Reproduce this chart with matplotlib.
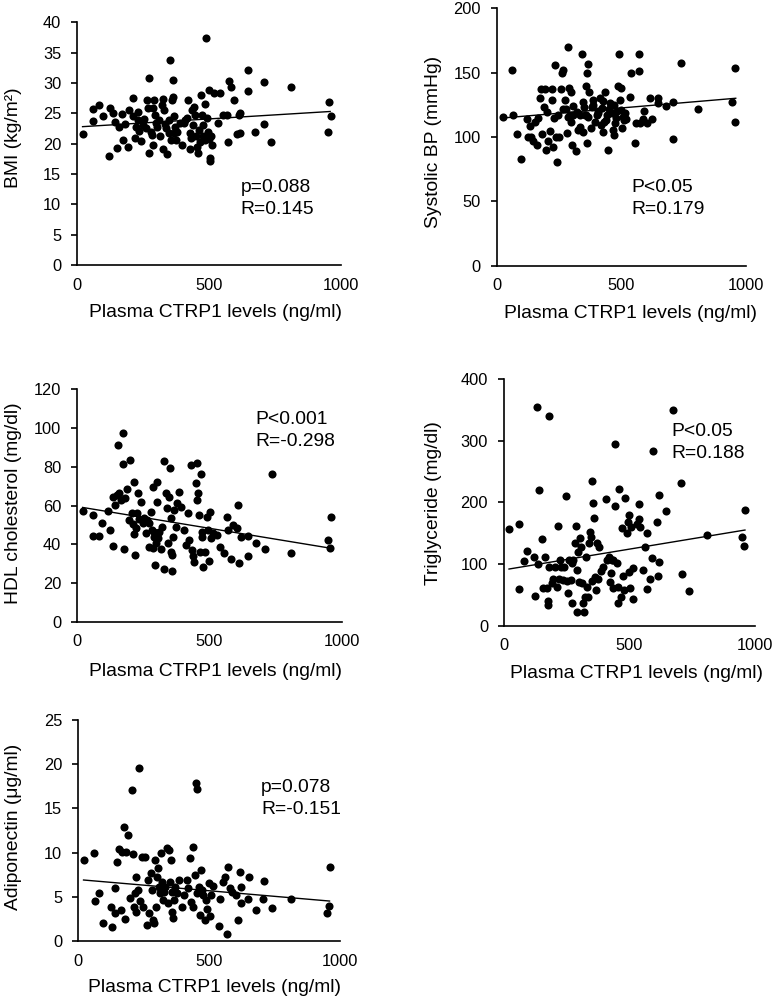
import matplotlib.pyplot as plt
import numpy as np

plt.rcParams["font.family"] = ["Liberation Sans", "DejaVu Sans"]

W, H = 775, 998
X_LABEL = "Plasma CTRP1 levels (ng/ml)"
X_TICKS = [0, 500, 1000]
FIT_X = [20, 960]

# (CTRP1 ng/ml, value)
BMI_POINTS = [
    (23, 21.6), (61, 25.7), (61, 23.8), (81, 26.3), (96, 24.6), (124, 25.9), (122, 17.9),
    (137, 25.1), (143, 23.6), (152, 19.3), (157, 22.8), (171, 24.9), (175, 20.6), (181, 23.2),
    (192, 19.5), (198, 25.5), (213, 27.6), (213, 24.5), (220, 20.9), (224, 22.8), (229, 25.2),
    (232, 23.9), (236, 22.1), (241, 20.4), (249, 23.1), (254, 24.1), (260, 22.5), (264, 27.2),
    (270, 25.9), (273, 18.4), (274, 30.9), (280, 22.0), (283, 21.5), (287, 25.9), (289, 19.8),
    (293, 27.2), (295, 24.7), (299, 23.4), (304, 22.8), (309, 23.9), (315, 21.3), (321, 26.4),
    (324, 19.2), (327, 27.4), (330, 25.5), (333, 23.2), (338, 22.5), (340, 18.3), (347, 23.9),
    (350, 21.7), (353, 33.8), (355, 20.6), (359, 27.2), (362, 30.5), (362, 27.7), (366, 24.5),
    (368, 21.7), (372, 22.8), (376, 20.6), (378, 22.0), (390, 23.4), (398, 19.7), (404, 23.4),
    (410, 23.9), (416, 24.3), (422, 27.2), (427, 21.7), (429, 19.2), (432, 20.9), (435, 25.5),
    (439, 23.1), (444, 26.1), (448, 24.7), (450, 21.2), (455, 19.5), (458, 18.4), (463, 22.3),
    (467, 20.3), (471, 28.0), (473, 24.7), (476, 21.2), (479, 23.1), (484, 26.6), (486, 20.6),
    (490, 37.4), (492, 24.3), (497, 22.0), (499, 20.7), (501, 28.8), (502, 17.7), (505, 17.2),
    (507, 21.2), (512, 19.8), (518, 28.4), (536, 23.4), (543, 28.4), (553, 24.7), (568, 24.7),
    (573, 20.3), (575, 30.4), (584, 29.3), (594, 27.2), (607, 21.6), (614, 24.7), (617, 25.1),
    (619, 21.8), (647, 32.1), (648, 28.6), (676, 21.9), (708, 30.1), (710, 23.2), (737, 20.2),
    (810, 29.3), (950, 22.0), (957, 26.8), (962, 24.6),
]
BP_POINTS = [
    (24, 115.8), (62, 152.1), (64, 117.1), (83, 102.1), (96, 82.9), (120, 114.0), (127, 100.3),
    (134, 108.5), (138, 99.7), (145, 97.2), (154, 111.9), (161, 93.8), (167, 114.5), (174, 130.1),
    (178, 137.0), (181, 102.1), (190, 123.1), (194, 137.0), (198, 89.9), (203, 119.7), (207, 96.9),
    (214, 104.7), (221, 128.8), (222, 137.0), (228, 92.5), (230, 114.5), (234, 156.0), (238, 100.3),
    (241, 80.8), (248, 117.1), (251, 100.3), (257, 137.0), (264, 149.5), (266, 152.1), (268, 121.5),
    (274, 128.8), (281, 103.4), (285, 115.3), (288, 170.2), (292, 137.8), (294, 117.1), (298, 135.2),
    (301, 93.8), (305, 124.1), (308, 117.1), (319, 89.1), (321, 119.7), (328, 105.4), (335, 117.1),
    (341, 164.2), (345, 104.1), (348, 127.5), (351, 123.6), (355, 117.1), (359, 139.6), (361, 95.1),
    (364, 150.0), (365, 156.7), (368, 115.8), (372, 135.2), (378, 107.3), (382, 123.6), (388, 128.8),
    (402, 117.1), (408, 118.4), (415, 130.1), (422, 122.3), (426, 104.1), (431, 111.9), (435, 135.2),
    (442, 117.1), (448, 89.9), (455, 126.2), (462, 118.4), (466, 105.4), (471, 101.6), (475, 110.6),
    (482, 120.2), (489, 139.6), (493, 164.2), (495, 128.8), (498, 137.8), (502, 106.7), (506, 115.3),
    (511, 113.2), (516, 118.4), (535, 130.8), (540, 150.0), (556, 95.1), (560, 111.1), (570, 164.2),
    (573, 151.3), (576, 111.1), (586, 113.7), (593, 120.2), (602, 111.1), (616, 130.1), (622, 113.7),
    (647, 130.1), (649, 126.7), (679, 124.1), (707, 127.5), (710, 98.2), (739, 157.3), (807, 121.8),
    (945, 126.9), (957, 153.9), (958, 111.9), (360, 117.0), (385, 125.0), (395, 112.0), (405, 120.0),
    (428, 128.0), (440, 113.0), (450, 122.0), (470, 125.0), (480, 115.0), (500, 121.0), (520, 114.0),
    (335, 108.0), (300, 112.0), (280, 122.0), (420, 109.0),
]
HDL_POINTS = [
    (23, 57.3), (61, 55.1), (58, 44.2), (81, 44.2), (95, 51.1), (117, 57.3), (124, 47.3),
    (134, 39.1), (136, 64.5), (142, 60.2), (149, 65.4), (155, 91.2), (159, 66.3), (165, 62.8),
    (172, 81.2), (174, 97.2), (177, 37.3), (180, 63.7), (189, 68.3), (195, 52.5), (199, 83.5),
    (208, 56.3), (212, 50.3), (214, 45.3), (216, 72.3), (222, 48.2), (224, 56.3), (219, 34.4),
    (228, 66.3), (235, 52.8), (240, 62.0), (247, 51.1), (253, 53.4), (258, 45.6), (262, 52.5),
    (271, 50.8), (272, 38.7), (277, 56.8), (281, 47.3), (285, 69.7), (288, 38.2), (289, 46.5),
    (291, 43.9), (293, 29.3), (296, 40.4), (300, 72.3), (303, 62.0), (306, 43.0), (310, 46.5),
    (316, 37.3), (322, 49.1), (328, 83.1), (329, 27.0), (334, 66.3), (338, 58.5), (342, 40.4),
    (347, 64.5), (351, 79.2), (353, 53.4), (354, 36.1), (357, 26.3), (359, 34.4), (363, 43.9),
    (367, 57.7), (373, 49.1), (378, 61.1), (386, 67.1), (394, 59.4), (405, 47.3), (411, 39.6),
    (417, 55.9), (424, 42.2), (429, 80.9), (433, 37.0), (436, 33.9), (441, 31.0), (449, 71.4),
    (452, 81.8), (454, 62.8), (458, 66.3), (460, 55.1), (464, 36.1), (468, 76.2), (470, 46.5),
    (473, 43.9), (477, 28.1), (483, 36.1), (489, 53.9), (496, 47.3), (499, 31.3), (502, 56.8),
    (506, 43.0), (514, 45.6), (527, 44.8), (540, 38.7), (556, 35.6), (565, 54.2), (571, 47.3),
    (580, 32.2), (590, 49.9), (605, 48.2), (609, 60.2), (613, 30.1), (618, 43.5), (646, 44.2),
    (647, 33.9), (676, 40.4), (710, 37.3), (735, 76.2), (807, 35.3), (947, 42.2), (956, 38.0),
    (958, 54.2),
]
TG_POINTS = [
    (21, 157.3), (60, 164.3), (58, 58.9), (81, 104.9), (93, 121.6), (121, 110.8), (124, 48.6),
    (133, 354.1), (137, 100.0), (141, 220.0), (151, 141.1), (157, 60.5), (163, 111.9), (170, 60.5),
    (174, 40.5), (177, 33.0), (178, 340.5), (181, 94.6), (191, 68.6), (197, 75.1), (205, 94.6),
    (210, 63.2), (215, 161.6), (218, 75.1), (223, 106.5), (229, 94.6), (234, 74.1), (239, 94.6),
    (246, 210.3), (250, 73.0), (254, 53.5), (260, 106.5), (266, 74.1), (270, 37.3), (272, 101.1),
    (276, 106.5), (283, 133.5), (287, 161.6), (290, 22.7), (292, 90.3), (296, 120.0), (299, 71.4),
    (303, 141.6), (307, 128.1), (309, 68.6), (316, 37.3), (319, 22.7), (323, 47.0), (327, 111.9),
    (329, 62.2), (336, 47.0), (340, 133.5), (343, 152.4), (347, 144.3), (349, 235.1), (352, 73.0),
    (356, 198.4), (360, 174.1), (363, 78.4), (367, 57.8), (369, 133.5), (376, 75.1), (386, 89.2),
    (396, 94.6), (405, 205.4), (412, 106.5), (418, 111.9), (422, 71.4), (425, 84.9), (432, 106.5),
    (436, 60.5), (441, 294.6), (442, 194.6), (449, 101.1), (453, 36.2), (455, 63.2), (460, 221.1),
    (465, 47.0), (469, 157.8), (473, 80.5), (479, 57.8), (483, 206.5), (489, 150.8), (493, 168.6),
    (497, 87.6), (499, 179.5), (502, 60.5), (507, 160.5), (512, 42.7), (515, 93.0), (538, 197.3),
    (539, 172.4), (542, 160.5), (555, 90.3), (571, 150.8), (571, 58.9), (582, 75.1), (588, 109.2),
    (592, 283.8), (609, 168.6), (612, 80.5), (618, 211.9), (619, 103.8), (645, 186.5), (675, 349.7),
    (705, 230.8), (709, 83.8), (737, 56.8), (807, 147.0), (947, 143.2), (956, 129.2), (960, 187.6),
    (380, 128.1), (563, 128.1), (531, 164.9), (436, 106.5),
]
ADIPO_POINTS = [
    (23, 9.16), (61, 9.92), (64, 4.56), (80, 5.47), (96, 2.07), (125, 3.81), (127, 1.62),
    (140, 5.96), (141, 3.13), (149, 8.97), (155, 10.37), (164, 3.51), (166, 10.11), (175, 12.93),
    (180, 2.45), (182, 10.11), (191, 11.99), (197, 4.83), (204, 17.08), (210, 9.84), (213, 3.81),
    (217, 5.39), (220, 3.32), (222, 7.20), (227, 5.77), (233, 19.53), (236, 4.56), (242, 9.54),
    (248, 3.88), (255, 9.54), (261, 1.81), (265, 6.90), (271, 3.13), (276, 7.65), (283, 5.77),
    (287, 2.38), (289, 2.07), (293, 9.16), (295, 3.88), (299, 7.28), (303, 8.22), (307, 6.15),
    (312, 5.47), (316, 9.92), (320, 6.71), (322, 4.64), (327, 5.58), (333, 6.15), (340, 10.48),
    (344, 4.34), (346, 10.29), (350, 6.71), (353, 9.16), (357, 5.58), (359, 3.32), (363, 2.56),
    (366, 4.64), (369, 6.15), (376, 5.39), (385, 6.90), (397, 3.88), (405, 5.20), (414, 6.90),
    (420, 5.96), (427, 9.35), (432, 4.45), (437, 10.60), (439, 3.88), (446, 7.47), (450, 17.91),
    (452, 17.16), (455, 5.39), (460, 6.15), (465, 2.94), (470, 8.03), (474, 5.77), (478, 5.20),
    (483, 2.38), (488, 4.64), (493, 3.58), (498, 6.52), (503, 2.83), (508, 5.20), (516, 6.22),
    (539, 1.70), (541, 4.71), (552, 6.71), (561, 7.28), (567, 0.79), (573, 8.41), (580, 5.96),
    (589, 5.58), (603, 5.20), (611, 2.38), (618, 7.84), (620, 4.26), (623, 6.15), (650, 4.71),
    (651, 7.20), (679, 3.51), (707, 4.71), (709, 6.82), (739, 3.70), (811, 4.71), (949, 3.21),
    (958, 3.96), (962, 8.41),
]

BMI_FIT = [22.8, 25.3]
BP_FIT = [114.7, 130.1]
HDL_FIT = [59.0, 37.9]
TG_FIT = [91.9, 155.1]
ADIPO_FIT = [6.90, 4.52]

BMI_STATS = ["p=0.088", "R=0.145"]
BP_STATS = ["P<0.05", "R=0.179"]
HDL_STATS = ["P<0.001", "R=-0.298"]
TG_STATS = ["P<0.05", "R=0.188"]
ADIPO_STATS = ["p=0.078", "R=-0.151"]

fig = plt.figure(figsize=(W / 100, H / 100), dpi=100)


def fx(px):
    return px / W


def fy(py):
    return 1 - py / H


def draw_panel(box, points, fit, ylim, ystep, ylabel, ylabel_xy, stats, stats_xy, xlabel_xy):
    left, top, right, bottom = box
    ax = fig.add_axes([fx(left), fy(bottom), (right - left) / W, (bottom - top) / H])
    pts = np.array(points, dtype=float)
    ax.scatter(pts[:, 0], pts[:, 1], s=34, color="black", linewidths=0, zorder=3)
    ax.plot(FIT_X, fit, color="black", linewidth=1.0, zorder=2)
    ax.set_xlim(0, 1000)
    ax.set_ylim(*ylim)
    ax.set_xticks(X_TICKS)
    ax.set_yticks(np.arange(ylim[0], ylim[1] + ystep / 2, ystep))
    for side in ("top", "right"):
        ax.spines[side].set_visible(False)
    for side in ("left", "bottom"):
        ax.spines[side].set_linewidth(1.2)
    ax.tick_params(axis="y", length=4.5, width=1.2, pad=7, labelsize=11.8)
    ax.tick_params(axis="x", length=0, pad=9, labelsize=11.8)
    ax.patch.set_alpha(0)
    fig.text(fx(ylabel_xy[0]), fy(ylabel_xy[1]), ylabel, rotation=90,
             ha="center", va="center", fontsize=13.9)
    fig.text(fx(xlabel_xy[0]), fy(xlabel_xy[1]), X_LABEL,
             ha="center", va="center", fontsize=13.9)
    for i, line in enumerate(stats):
        fig.text(fx(stats_xy[0]), fy(stats_xy[1] + 22 * i), line,
                 ha="left", va="center", fontsize=13.9)
    return ax


draw_panel((77.3, 22.3, 340.7, 265), BMI_POINTS, BMI_FIT, (0, 40), 5,
           "BMI (kg/m²)", (13.3, 138), BMI_STATS, (240.7, 188), (216, 313))
draw_panel((496.7, 8.3, 745.7, 265.7), BP_POINTS, BP_FIT, (0, 200), 50,
           "Systolic BP (mmHg)", (433.3, 141.7), BP_STATS, (631.7, 187), (630, 314))
draw_panel((77.3, 389.3, 341.7, 621.7), HDL_POINTS, HDL_FIT, (0, 120), 20,
           "HDL cholesterol (mg/dl)", (13.3, 503), HDL_STATS, (255, 420), (216, 671))
draw_panel((504, 379, 755, 625.7), TG_POINTS, TG_FIT, (0, 400), 100,
           "Triglyceride (mg/dl)", (433.3, 503), TG_STATS, (671.7, 432), (636, 674))
draw_panel((78.3, 720, 340, 941), ADIPO_POINTS, ADIPO_FIT, (0, 25), 5,
           "Adiponectin (μg/ml)", (13.3, 827), ADIPO_STATS, (261, 788), (215, 987))

fig.savefig("out.png", dpi=100, facecolor="white")
